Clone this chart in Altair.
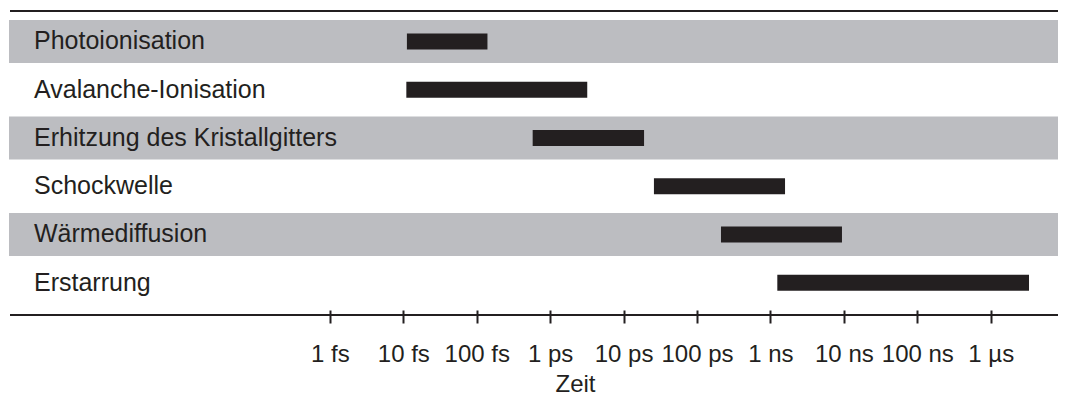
import altair as alt
import pandas as pd

# Processes (top to bottom) and their time ranges in femtoseconds
processes = [
    "Photoionisation",
    "Avalanche-Ionisation",
    "Erhitzung des Kristallgitters",
    "Schockwelle",
    "Wärmediffusion",
    "Erstarrung",
]
start_fs = [11.2, 11.0, 578, 25900, 2.12e5, 1.24e6]
end_fs = [140, 3200, 19000, 1.58e6, 9.42e6, 3.32e9]
shaded = [True, False, True, False, True, False]

tick_values = [1, 10, 100, 1e3, 1e4, 1e5, 1e6, 1e7, 1e8, 1e9]
tick_labels = ["1 fs", "10 fs", "100 fs", "1 ps", "10 ps", "100 ps",
               "1 ns", "10 ns", "100 ns", "1 µs"]
x_domain = [4.27e-5, 8.24e9]

df = pd.DataFrame({"process": processes, "start": start_fs,
                   "end": end_fs, "shaded": shaded})

W, H = 1049, 304
FONT = "Liberation Sans"
INK = "#231f20"
GRAY = "#bcbdc1"

label_expr = "[" + ",".join(f"'{t}'" for t in tick_labels) + "][round(log(datum.value)/LN10)]"

yscale = alt.Scale(domain=processes, paddingInner=0, paddingOuter=0.15, align=0.434)
xscale = alt.Scale(type="log", domain=x_domain, nice=False)

ychan = alt.Y("process:N", scale=yscale, axis=None, sort=processes)

bands = alt.Chart(df).transform_filter("datum.shaded").mark_bar(
    color=GRAY, size=43, orient="horizontal"
).encode(
    y=ychan,
    x=alt.value(0),
    x2=alt.value("width"),
)

bars = alt.Chart(df).mark_bar(color=INK, size=16, orient="horizontal").encode(
    y=ychan,
    x=alt.X(
        "start:Q",
        scale=xscale,
        axis=alt.Axis(
            values=tick_values,
            labelExpr=label_expr,
            domain=False,
            grid=False,
            offset=-5,
            tickSize=13,
            tickWidth=2,
            tickColor=INK,
            labelFont=FONT,
            labelFontSize=24,
            labelColor=INK,
            labelBaseline="alphabetic",
            labelPadding=38,
            labelFlush=False,
            labelOverlap=False,
            title="Zeit",
            titleFont=FONT,
            titleFontSize=24,
            titleFontWeight="normal",
            titleColor=INK,
            titleX=566,
            titleY=81,
            titleAlign="center",
            titleBaseline="alphabetic",
        ),
    ),
    x2="end:Q",
)

labels = alt.Chart(df).mark_text(
    align="left", baseline="middle", font=FONT, fontSize=25, color=INK
).encode(
    y=ychan,
    x=alt.value(25),
    text="process:N",
)

top_line = alt.Chart(df).mark_rule(color=INK, strokeWidth=1.8).encode(
    x=alt.value(1), x2=alt.value("width"), y=alt.value(0)
)
axis_line = alt.Chart(df).mark_rule(color=INK, strokeWidth=2).encode(
    x=alt.value(1), x2=alt.value("width"), y=alt.value("height")
)

chart = alt.layer(bands, bars, labels, top_line, axis_line).properties(
    width=W,
    height=H,
    padding={"left": 1, "top": 3, "right": 0, "bottom": 82},
    autosize=alt.AutoSizeParams(type="none"),
    background="white",
).configure_view(stroke=None)

chart.save("out.html", embed_options={"renderer": "svg", "actions": False})
